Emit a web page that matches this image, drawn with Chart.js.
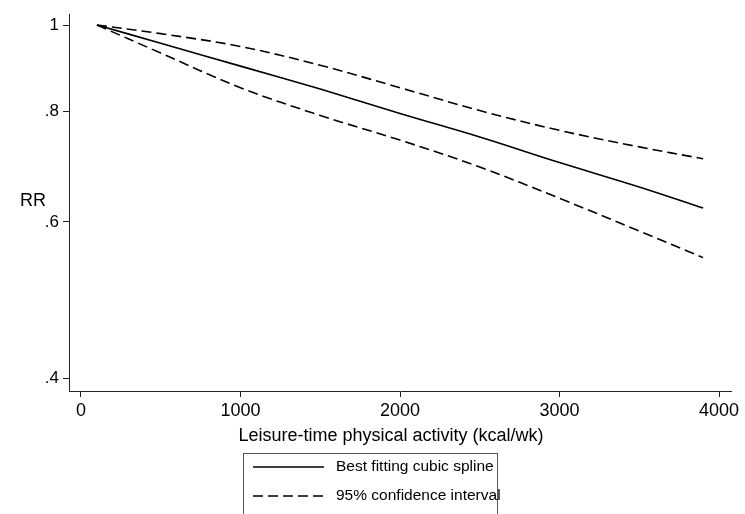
<!DOCTYPE html>
<html>
<head>
<meta charset="utf-8">
<script src="https://cdn.jsdelivr.net/npm/chart.js@4.4.1/dist/chart.umd.min.js"></script>
<style>
  html, body { margin: 0; padding: 0; background: #fff; }
  #wrap { width: 745px; height: 514px; }
</style>
</head>
<body>
<div id="wrap"><canvas id="rrChart" width="745" height="514"></canvas></div>
<script>
// activity levels (kcal/wk) where the curves are sampled
var activity = [100, 500, 1000, 1500, 2000, 2500, 3000, 3500, 3900];
// relative risk from the fitted spline and its 95% limits
var rrSpline = [1.0, 0.954, 0.899, 0.847, 0.795, 0.748, 0.700, 0.657, 0.622];
var rrUpper  = [1.0, 0.978, 0.946, 0.901, 0.850, 0.801, 0.761, 0.729, 0.707];
var rrLower  = [1.0, 0.930, 0.850, 0.791, 0.742, 0.692, 0.638, 0.586, 0.547];
var xTicks = [0, 1000, 2000, 3000, 4000];
var yTicks = [0.4, 0.6, 0.8, 1];
var yTickLabels = ['.4', '.6', '.8', '1'];

var font = "'Liberation Sans', Arial, sans-serif";

function pts(ys) {
    return activity.map(function (x, i) { return { x: x, y: ys[i] }; });
}

// legend box, y title and x title drawn by hand, Stata style
var extras = {
    id: 'extras',
    afterDraw: function (chart) {
        var ctx = chart.ctx;
        ctx.save();
        ctx.fillStyle = '#000';
        ctx.font = '18px ' + font;
        ctx.textBaseline = 'middle';
        ctx.textAlign = 'left';
        ctx.fillText('RR', 20, 201);
        ctx.textAlign = 'center';
        ctx.fillText('Leisure-time physical activity (kcal/wk)', 391, 436);

        // legend
        ctx.strokeStyle = '#555';
        ctx.lineWidth = 1;
        ctx.strokeRect(243.5, 453.5, 254, 80);
        var rows = [chart.data.datasets[0], chart.data.datasets[1]];
        rows.forEach(function (ds, i) {
            var y = 467 + i * 29;
            ctx.strokeStyle = '#000';
            ctx.lineWidth = 1.5;
            ctx.setLineDash(ds.borderDash || []);
            ctx.beginPath();
            ctx.moveTo(253, y);
            ctx.lineTo(324, y);
            ctx.stroke();
            ctx.setLineDash([]);
            ctx.textAlign = 'left';
            ctx.font = '15.5px ' + font;
            ctx.fillText(ds.label, 336, y);
        });
        ctx.restore();
    }
};

new Chart(document.getElementById('rrChart'), {
    type: 'line',
    data: {
        datasets: [
            { label: 'Best fitting cubic spline', data: pts(rrSpline), borderColor: '#000', borderWidth: 1.6 },
            { label: '95% confidence interval', data: pts(rrUpper), borderColor: '#000', borderWidth: 1.6, borderDash: [10, 5] },
            { label: '95% confidence interval', data: pts(rrLower), borderColor: '#000', borderWidth: 1.6, borderDash: [10, 5] }
        ]
    },
    options: {
        responsive: false,
        animation: false,
        elements: {
            point: { radius: 0 },
            line: { tension: 0.35, fill: false }
        },
        layout: { padding: { left: 0, top: 10, right: 14, bottom: 0 } },
        plugins: {
            legend: { display: false },
            tooltip: { enabled: false }
        },
        scales: {
            x: {
                type: 'linear',
                min: -75,
                max: 4075,
                afterFit: function (s) { s.height = 123; },
                afterBuildTicks: function (s) {
                    s.ticks = xTicks.map(function (v) { return { value: v }; });
                },
                grid: { drawOnChartArea: false, tickLength: 6, color: '#222', lineWidth: 1 },
                border: { color: '#222', width: 1 },
                ticks: {
                    color: '#000',
                    font: { family: font, size: 18 },
                    padding: 3,
                    maxRotation: 0,
                    callback: function (v) { return String(v); }
                }
            },
            y: {
                type: 'logarithmic',
                min: 0.387,
                max: 1.0286,
                afterFit: function (s) { s.width = 69; },
                afterBuildTicks: function (s) {
                    s.ticks = yTicks.map(function (v) { return { value: v }; });
                },
                grid: { drawOnChartArea: false, tickLength: 6, color: '#222', lineWidth: 1 },
                border: { color: '#222', width: 1 },
                ticks: {
                    color: '#000',
                    font: { family: font, size: 17 },
                    padding: 4,
                    callback: function (v) {
                        var i = yTicks.indexOf(v);
                        return i >= 0 ? yTickLabels[i] : '';
                    }
                }
            }
        }
    },
    plugins: [extras]
});
</script>
</body>
</html>
